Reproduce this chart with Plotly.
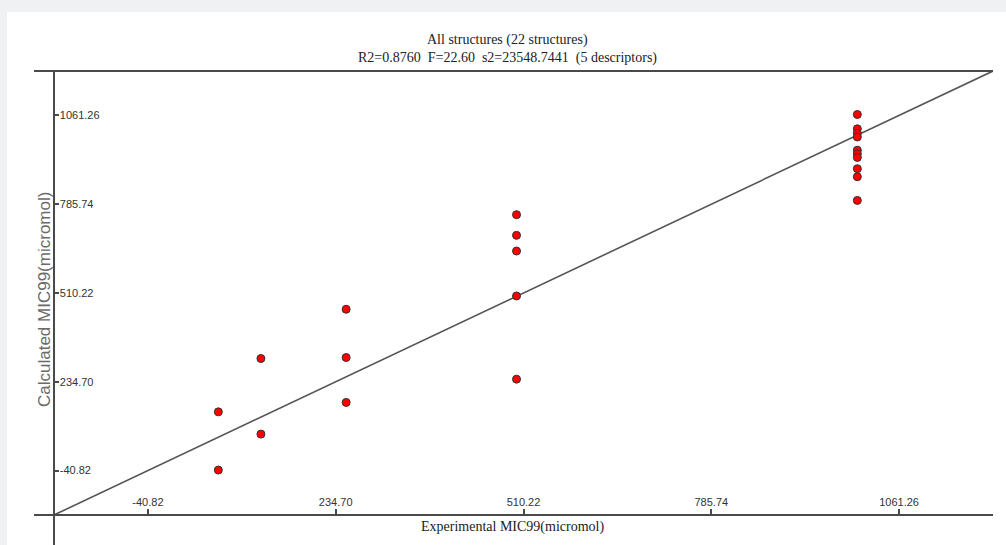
import plotly.graph_objects as go

# ---- data ----
experimental = [62.5, 62.5, 125, 125, 250, 250, 250,
                500, 500, 500, 500, 500,
                1000, 1000, 1000, 1000, 1000, 1000, 1000, 1000, 1000, 1000]
calculated = [141.5, -39.1, 307.0, 72.4, 459.8, 310.1, 170.7,
              753.2, 689.1, 640.4, 501.0, 242.9,
              1064.0, 1019.7, 1005.8, 994.3, 953.4, 942.2, 930.8, 895.8, 871.0, 797.5]
axis_limits = [-178.58, 1199.02]
tick_values = [-40.82, 234.70, 510.22, 785.74, 1061.26]
tick_labels = ["-40.82", "234.70", "510.22", "785.74", "1061.26"]
title_line1 = "All structures (22 structures)"
title_line2 = "R2=0.8760  F=22.60  s2=23548.7441  (5 descriptors)"
x_title = "Experimental MIC99(micromol)"
y_title = "Calculated MIC99(micromol)"

W, H = 1006, 545
L, R, T, B = 54, 13, 71, 30
pw, ph = W - L - R, H - T - B

def px2paper_x(px):
    return (px - L) / pw

def py2paper_y(py):
    return (H - B - py) / ph

axis_col = "#4a4a4a"
tick_font = dict(family="Liberation Sans Narrow, Arial Narrow, Liberation Sans, Arial", size=11, color="#333333")
serif = "Liberation Serif, Times New Roman, serif"

fig = go.Figure()

# ideal y = x line
fig.add_trace(go.Scatter(
    x=axis_limits, y=axis_limits, mode="lines",
    line=dict(color="#555555", width=1.6), hoverinfo="skip", showlegend=False,
    cliponaxis=False))

fig.add_trace(go.Scatter(
    x=experimental, y=calculated, mode="markers",
    marker=dict(color="#ff0000", size=8, line=dict(color="#333333", width=1)),
    showlegend=False, cliponaxis=False))

shapes = [
    # grey page border strips
    dict(type="rect", xref="paper", yref="paper",
         x0=px2paper_x(0), x1=px2paper_x(W), y0=py2paper_y(12), y1=py2paper_y(0),
         fillcolor="#f0f1f3", line=dict(width=0), layer="below"),
    dict(type="rect", xref="paper", yref="paper",
         x0=px2paper_x(0), x1=px2paper_x(7), y0=py2paper_y(H), y1=py2paper_y(0),
         fillcolor="#f0f1f3", line=dict(width=0), layer="below"),
    # top border line
    dict(type="line", xref="paper", yref="paper",
         x0=px2paper_x(34), x1=1, y0=1, y1=1,
         line=dict(color=axis_col, width=2)),
    # x axis line (extended to the left)
    dict(type="line", xref="paper", yref="paper",
         x0=px2paper_x(34), x1=1, y0=0, y1=0,
         line=dict(color=axis_col, width=2)),
    # y axis line (extended downwards)
    dict(type="line", xref="paper", yref="paper",
         x0=0, x1=0, y0=py2paper_y(H), y1=1,
         line=dict(color=axis_col, width=2)),
]

annotations = [
    dict(text=title_line1, xref="paper", yref="paper",
         x=px2paper_x(507), y=py2paper_y(40), xanchor="center", yanchor="middle",
         showarrow=False, font=dict(family=serif, size=14, color="#222222")),
    dict(text=title_line2, xref="paper", yref="paper",
         x=px2paper_x(507), y=py2paper_y(58), xanchor="center", yanchor="middle",
         showarrow=False, font=dict(family=serif, size=14, color="#222222")),
    dict(text=x_title, xref="paper", yref="paper",
         x=px2paper_x(512), y=py2paper_y(527), xanchor="center", yanchor="middle",
         showarrow=False, font=dict(family=serif, size=14, color="#222222")),
    dict(text=y_title, xref="paper", yref="paper",
         x=px2paper_x(44), y=py2paper_y(300), xanchor="center", yanchor="middle",
         textangle=-90, showarrow=False,
         font=dict(family="Liberation Sans, Arial, sans-serif", size=17, color="#6a6a6a")),
]

fig.update_layout(
    width=W, height=H,
    margin=dict(l=L, r=R, t=T, b=B, pad=0),
    paper_bgcolor="white", plot_bgcolor="white",
    shapes=shapes, annotations=annotations,
    xaxis=dict(range=axis_limits, tickvals=tick_values, ticktext=tick_labels,
               ticks="inside", ticklen=6, tickwidth=1.5, tickcolor=axis_col,
               ticklabelposition="inside", tickfont=tick_font,
               showgrid=False, zeroline=False, showline=False, fixedrange=True),
    yaxis=dict(range=axis_limits, tickvals=tick_values, ticktext=tick_labels,
               ticks="inside", ticklen=5, tickwidth=1.5, tickcolor=axis_col,
               ticklabelposition="inside", tickfont=tick_font,
               showgrid=False, zeroline=False, showline=False, fixedrange=True),
)

fig.write_html("out.html", config={"displayModeBar": False},
               post_script="document.body.style.margin='0';")
